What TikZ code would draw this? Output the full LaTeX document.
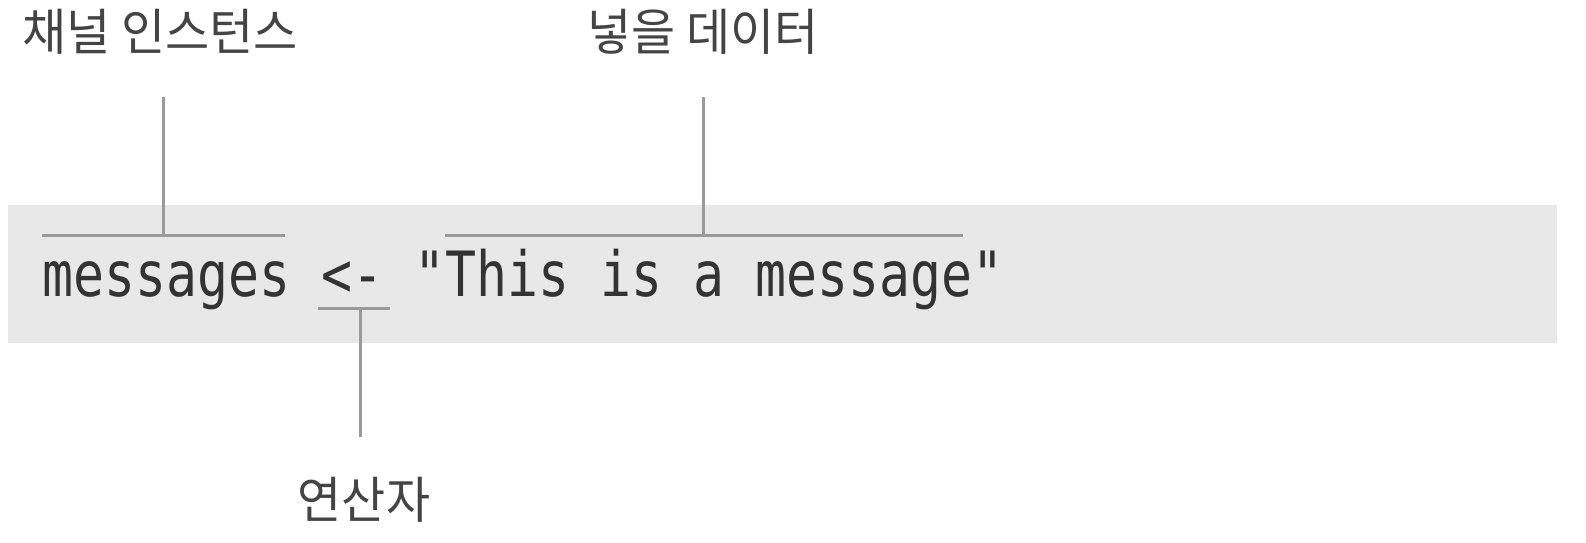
\documentclass[tikz,border=0pt]{standalone}
\usepackage{fontspec}
\newfontfamily\kofont[FakeStretch=0.96]{Noto Sans CJK KR}
\newfontfamily\codefont[FakeStretch=0.825]{DejaVu Sans Mono}
\definecolor{band}{HTML}{E8E8E8}
\definecolor{linec}{HTML}{9A9A9A}
\definecolor{labc}{HTML}{444444}
\definecolor{codec}{HTML}{333333}
\begin{document}
\begin{tikzpicture}[x=0.5pt,y=-0.5pt,
  lab/.style={font=\kofont\fontsize{25pt}{29pt}\selectfont, text=labc, inner sep=0pt},
  code/.style={font=\codefont\fontsize{31.2pt}{36pt}\selectfont, text=codec, inner sep=0pt},
  brk/.style={draw=linec, line width=1.5pt}]
\useasboundingbox (0,0) rectangle (1586,542);
\fill[band] (8,205) rectangle (1557,343);
\node[code, anchor=base west] (codeline) at (42,296) {messages <- "This is a message"};
\node[lab] (chan) at (160,32) {채널 인스턴스};
\node[lab] (data) at (703,32) {넣을 데이터};
\node[lab] (op) at (364,500) {연산자};
% brackets
\coordinate (b1l) at (42,235); \coordinate (b1r) at (285,235); \coordinate (b1m) at (163,235); \coordinate (b1t) at (163,97);
\coordinate (b2l) at (445,235); \coordinate (b2r) at (963,235); \coordinate (b2m) at (703,235); \coordinate (b2t) at (703,97);
\coordinate (b3l) at (318,308); \coordinate (b3r) at (390,308); \coordinate (b3m) at (360,308); \coordinate (b3b) at (360,437);
\draw[brk] (b1l) -- (b1r);
\draw[brk] (b1t) -- (b1m);
\draw[brk] (b2l) -- (b2r);
\draw[brk] (b2t) -- (b2m);
\draw[brk] (b3l) -- (b3r);
\draw[brk] (b3m) -- (b3b);
\end{tikzpicture}
\end{document}
